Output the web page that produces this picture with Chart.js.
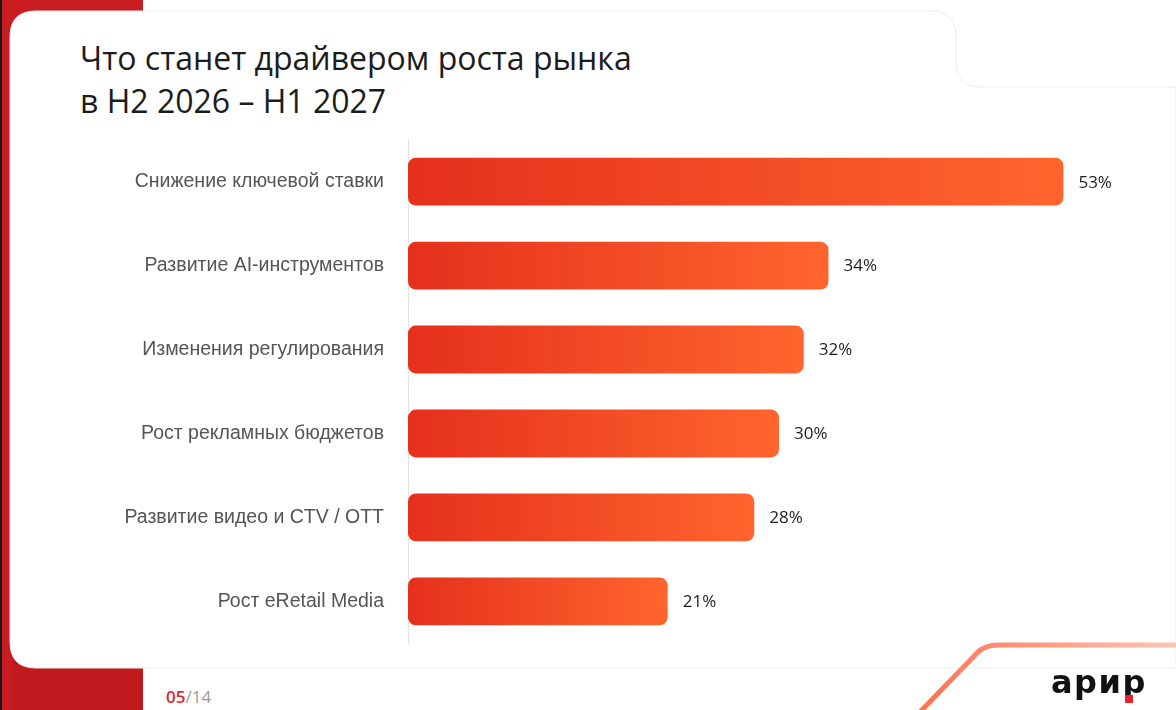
<!DOCTYPE html>
<html>
<head>
<meta charset="utf-8">
<script src="https://cdn.jsdelivr.net/npm/chart.js@4.4.1/dist/chart.umd.min.js"></script>
<style>
  html, body { margin: 0; padding: 0; }
  body { width: 1176px; height: 710px; position: relative; overflow: hidden; background: #fff; }
  #bg { position: absolute; left: 0; top: 0; }
  .title { position: absolute; left: 80px; top: 36px; font-family: "Open Sans", sans-serif; font-size: 32px; line-height: 43px; color: #1c1c1c; }
  #chart-wrap { position: absolute; left: 100px; top: 112px; width: 1076px; height: 559px; }
  .page { position: absolute; left: 166px; top: 685px; font-family: "Open Sans", sans-serif; font-size: 17px; color: #9a9a9a; }
  .page b { color: #d7282f; font-weight: 600; }
  .logo { position: absolute; left: 1051px; top: 666px; font-family: "DejaVu Sans", sans-serif; font-weight: 700; font-size: 32px; line-height: 32px; letter-spacing: 1.5px; color: #111; }
  .dot { position: absolute; left: 1125px; top: 695px; width: 8px; height: 8px; background: #e8232a; }
</style>
</head>
<body>
<svg id="bg" width="1176" height="710">
  <defs>
    <linearGradient id="lineGrad" x1="920" y1="0" x2="1176" y2="0" gradientUnits="userSpaceOnUse">
      <stop offset="0" stop-color="#ff7252"/>
      <stop offset="1" stop-color="#ffc4b4"/>
    </linearGradient>
  </defs>
  <rect x="0" y="0" width="143" height="40" fill="#c81c20"/>
  <rect x="0" y="630" width="143" height="80" fill="#c01a1e"/>
  <rect x="0" y="0" width="12" height="710" fill="#c81c20"/>
  <rect x="0" y="0" width="2" height="710" fill="#1a1a1a"/>
  <path d="M 36 11 H 930 Q 956 11 956 37 V 62 Q 956 87 981 87 H 1176 V 668 H 36 Q 10 668 10 642 V 37 Q 10 11 36 11 Z" fill="#fff" stroke="#eeeeee" stroke-width="1"/>
  <path d="M 920 712 L 978 652 Q 986 645 998 645 H 1180" fill="none" stroke="url(#lineGrad)" stroke-width="5"/>
</svg>

<div class="title">Что станет драйвером роста рынка<br>в H2 2026 – H1 2027</div>

<div id="chart-wrap"><canvas id="myChart"></canvas></div>

<div class="page"><b>05</b>/14</div>
<div class="logo">арир</div>
<div class="dot"></div>

<script>
const categories = [
  'Снижение ключевой ставки',
  'Развитие AI-инструментов',
  'Изменения регулирования',
  'Рост рекламных бюджетов',
  'Развитие видео и CTV / OTT',
  'Рост eRetail Media'
];
const shares = [53, 34, 32, 30, 28, 21];

// gradient per bar, from the axis to the bar end
const barGradient = (c) => {
  const chart = c.chart;
  const { ctx, chartArea, scales } = chart;
  if (!chartArea) return '#f04a22';
  const x0 = scales.x.getPixelForValue(0);
  const x1 = scales.x.getPixelForValue(c.raw);
  const g = ctx.createLinearGradient(x0, 0, x1, 0);
  g.addColorStop(0, '#e5301c');
  g.addColorStop(1, '#ff652d');
  return g;
};

const valueLabels = {
  id: 'valueLabels',
  afterDatasetsDraw(chart) {
    const ctx = chart.ctx;
    const meta = chart.getDatasetMeta(0);
    ctx.save();
    ctx.font = '500 17px "Open Sans", sans-serif';
    ctx.fillStyle = '#1e1e1e';
    ctx.textBaseline = 'middle';
    meta.data.forEach((bar, i) => {
      ctx.fillText(shares[i] + '%', bar.x + 15, bar.y + 1);
    });
    ctx.restore();
  }
};

new Chart(document.getElementById('myChart').getContext('2d'), {
  type: 'bar',
  data: {
    labels: categories,
    datasets: [{
      data: shares,
      backgroundColor: barGradient,
      borderRadius: 8,
      borderSkipped: false,
      barPercentage: 0.57,
      categoryPercentage: 1.0
    }]
  },
  options: {
    indexAxis: 'y',
    responsive: true,
    maintainAspectRatio: false,
    animation: false,
    layout: { padding: { top: 9, bottom: 7, right: 26, left: 0 } },
    plugins: { legend: { display: false }, tooltip: { enabled: false } },
    scales: {
      x: { display: false, min: 0, max: 60 },
      y: {
        afterFit: (scale) => { scale.width = 308; },
        grid: { display: false },
        border: { display: true, color: '#e2e2e2', width: 1 },
        ticks: {
          padding: 16,
          color: '#555',
          font: { family: '"Liberation Sans", Arial, sans-serif', size: 19.5 }
        }
      }
    }
  },
  plugins: [valueLabels]
});
</script>
</body>
</html>
